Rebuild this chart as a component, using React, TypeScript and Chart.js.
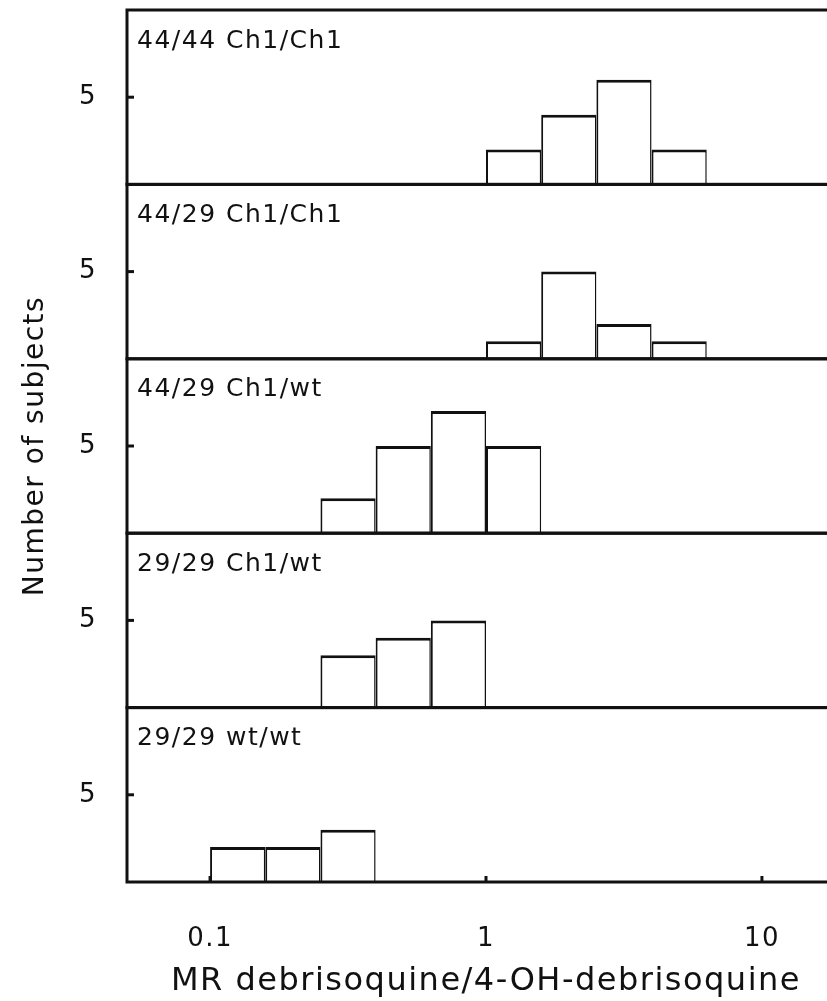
import React, { useEffect, useRef } from 'react';
import { Chart, registerables } from 'chart.js';

Chart.register(...registerables);

// Histogram bin edges (log-spaced)
const binEdges = [0.1, 0.1585, 0.2512, 0.3981, 0.631, 1, 1.585, 2.512, 3.981, 6.31];

// Panel labels (top to bottom)
const panelLabels = ['44/44 Ch1/Ch1', '44/29 Ch1/Ch1', '44/29 Ch1/wt', '29/29 Ch1/wt', '29/29 wt/wt'];

// Number of subjects per bin, one array per panel
const counts4444ChCh = [0, 0, 0, 0, 0, 2, 4, 6, 2];
const counts4429ChCh = [0, 0, 0, 0, 0, 1, 5, 2, 1];
const counts4429ChWt = [0, 0, 2, 5, 7, 5, 0, 0, 0];
const counts2929ChWt = [0, 0, 3, 4, 5, 0, 0, 0, 0];
const counts2929WtWt = [2, 2, 3, 0, 0, 0, 0, 0, 0];

const xTickValues = [0.1, 1, 10];
const xTickLabels = ['0.1', '1', '10'];
const yTickValue = 5;
const yTickLabel = '5';
const xTitle = 'MR debrisoquine/4-OH-debrisoquine';
const yTitle = 'Number of subjects';

const FONT = '"DejaVu Sans", "Liberation Sans", sans-serif';
const INK = '#111';

export default function App() {
  const ref = useRef<HTMLCanvasElement | null>(null);

  useEffect(() => {
    document.body.style.margin = '0';
    document.body.style.overflow = 'hidden';
    const canvas = ref.current;
    if (!canvas) return;

    const panelCounts = [counts4444ChCh, counts4429ChCh, counts4429ChWt, counts2929ChWt, counts2929WtWt];

    const datasets = panelCounts.map((c, p) => ({
      type: 'bar' as const,
      label: panelLabels[p],
      xAxisID: 'x',
      yAxisID: 'y' + p,
      data: c
        .map((v, i) => ({ x: Math.sqrt(binEdges[i] * binEdges[i + 1]), y: v }))
        .filter((d) => d.y > 0),
      backgroundColor: '#ffffff',
      borderColor: INK,
      borderWidth: { top: 3, left: 2, right: 1.5, bottom: 0 },
      borderSkipped: 'bottom' as const,
      barPercentage: 1,
      categoryPercentage: 1,
      grouped: false,
      inflateAmount: 0,
    }));

    const scales: any = {
      x: {
        type: 'logarithmic',
        min: 0.05,
        max: 20,
        offset: false,
        position: 'bottom',
        grid: { display: false, drawTicks: false },
        border: { display: false },
        afterBuildTicks: (s: any) => {
          s.ticks = xTickValues.map((v) => ({ value: v }));
        },
        ticks: {
          autoSkip: false,
          maxRotation: 0,
          padding: 42,
          color: INK,
          font: { size: 26, family: FONT },
          callback: (v: any) => {
            const idx = xTickValues.indexOf(Number(v));
            return idx >= 0 ? xTickLabels[idx] : '';
          },
        },
        title: {
          display: true,
          text: xTitle,
          color: INK,
          font: { size: 32, family: FONT },
          padding: { top: 0, bottom: 0 },
        },
        afterFit: (s: any) => {
          s.height = 119;
          s.paddingLeft = 0;
          s.paddingRight = 0;
        },
      },
    };

    for (let p = 0; p < 5; p++) {
      scales['y' + p] = {
        type: 'linear',
        position: 'left',
        stack: 'panels',
        stackWeight: 1,
        weight: 5 - p,
        min: 0,
        max: 10,
        offset: false,
        grid: { display: false, drawTicks: false },
        border: { display: false },
        afterBuildTicks: (s: any) => {
          s.ticks = [{ value: yTickValue }];
        },
        ticks: {
          padding: 30,
          color: INK,
          font: { size: 26, family: FONT },
          callback: () => yTickLabel,
        },
        title:
          p === 2
            ? {
                display: true,
                text: yTitle,
                color: INK,
                font: { size: 28, family: FONT },
                padding: { top: 19, bottom: 0 },
              }
            : { display: false },
        afterFit: (s: any) => {
          s.width = 127;
          s.paddingTop = 0;
          s.paddingBottom = 0;
        },
      };
    }

    const framePlugin = {
      id: 'frame',
      beforeUpdate(chart: any) {
        chart.ctx.letterSpacing = '1.5px';
      },
      beforeDraw(chart: any) {
        chart.ctx.letterSpacing = '1.5px';
      },
      afterDatasetsDraw(chart: any) {
        const { ctx, chartArea } = chart;
        ctx.save();
        ctx.strokeStyle = INK;
        ctx.fillStyle = INK;
        ctx.lineWidth = 3;
        for (let p = 0; p < 5; p++) {
          const s = chart.scales['y' + p];
          ctx.strokeRect(chartArea.left, s.top, chartArea.right - chartArea.left, s.bottom - s.top);
          const y5 = s.getPixelForValue(yTickValue);
          ctx.beginPath();
          ctx.moveTo(chartArea.left, y5);
          ctx.lineTo(chartArea.left + 7, y5);
          ctx.stroke();
          ctx.font = '25px ' + FONT;
          ctx.textBaseline = 'middle';
          ctx.textAlign = 'left';
          ctx.fillText(panelLabels[p], chartArea.left + 10, s.top + 31);
        }
        const xs = chart.scales.x;
        for (const v of xTickValues) {
          const px = xs.getPixelForValue(v);
          ctx.beginPath();
          ctx.moveTo(px, chartArea.bottom);
          ctx.lineTo(px, chartArea.bottom - 6);
          ctx.stroke();
        }
        ctx.restore();
      },
    };

    const chart = new Chart(canvas, {
      type: 'bar',
      data: { datasets: datasets as any },
      options: {
        responsive: false,
        animation: false,
        devicePixelRatio: 1,
        layout: { padding: { top: 10, left: 0, right: 5, bottom: 0 } },
        plugins: {
          legend: { display: false },
          tooltip: { enabled: false },
          title: { display: false },
        },
        scales,
      },
      plugins: [framePlugin],
    });

    return () => chart.destroy();
  }, []);

  return (
    <div style={{ width: 827, height: 1001, overflow: 'hidden', position: 'relative', background: '#fff' }}>
      <canvas ref={ref} width={850} height={1001} style={{ width: 850, height: 1001, display: 'block' }} />
    </div>
  );
}
